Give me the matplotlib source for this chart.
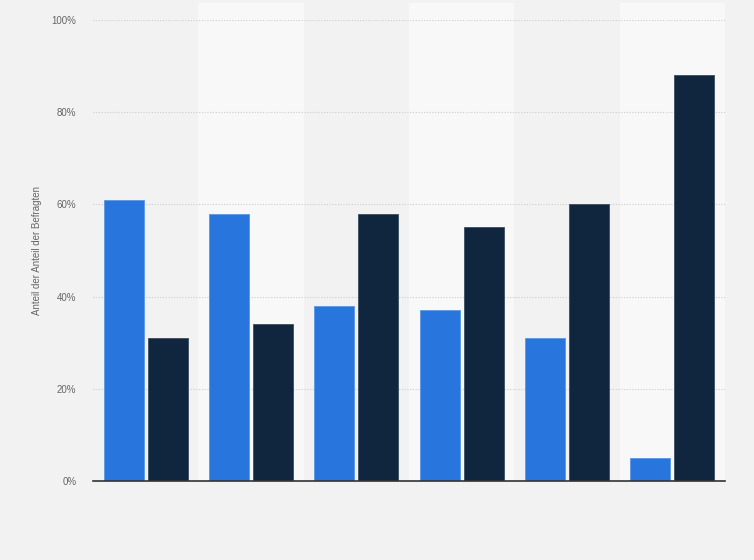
import numpy as np
import matplotlib.pyplot as plt

plt.rcParams['font.family'] = ['Liberation Sans', 'DejaVu Sans']

# DATA
kategorien = ['', '', '', '', '', '']
serie_1 = [61, 58, 38, 37, 31, 5]
serie_2 = [31, 34, 58, 55, 60, 88]
y_ticks = [0, 20, 40, 60, 80, 100]
y_labels = ['0%', '20%', '40%', '60%', '80%', '100%']

fig = plt.figure(figsize=(7.54, 5.6), dpi=100)
fig.patch.set_facecolor('#f2f2f2')
ax = fig.add_axes([93 / 754, 79 / 560, 632 / 754, 461 / 560])
ax.set_facecolor('#f2f2f2')

x = np.arange(len(kategorien))
w = 0.38
gap = 0.019

# abwechselnde Hintergrundstreifen
for i in x:
    if i % 2 == 1:
        ax.axvspan(i - 0.5, i + 0.5, ymin=0, ymax=1.037, color='#f8f8f8',
                   zorder=0, clip_on=False, lw=0)

ax.bar(x - w / 2 - gap, serie_1, width=w, color='#2876dd', edgecolor='#5a97e6',
       linewidth=0.6, zorder=3)
ax.bar(x + w / 2 + gap, serie_2, width=w, color='#10263e', edgecolor='#3b4d60',
       linewidth=0.6, zorder=3)

ax.set_xlim(-0.5, len(kategorien) - 0.5)
ax.set_ylim(0, 100)
ax.set_yticks(y_ticks)
ax.set_yticklabels(y_labels)
ax.set_xticks(x)
ax.set_xticklabels(kategorien)
ax.tick_params(axis='both', length=0, colors='#666666', labelsize=7)
ax.tick_params(axis='y', pad=12)

for t in y_ticks[1:]:
    ax.axhline(t, color='#cccccc', lw=0.8, ls=(0, (1, 1.5)), zorder=1)

for s in ['top', 'right', 'left']:
    ax.spines[s].set_visible(False)
ax.spines['bottom'].set_color('#333333')
ax.spines['bottom'].set_linewidth(1.2)
ax.spines['bottom'].set_zorder(4)

ax.set_ylabel('Anteil der Anteil der Befragten', color='#666666', fontsize=7,
              labelpad=7)

fig.savefig('out.png', dpi=100, facecolor=fig.get_facecolor())
